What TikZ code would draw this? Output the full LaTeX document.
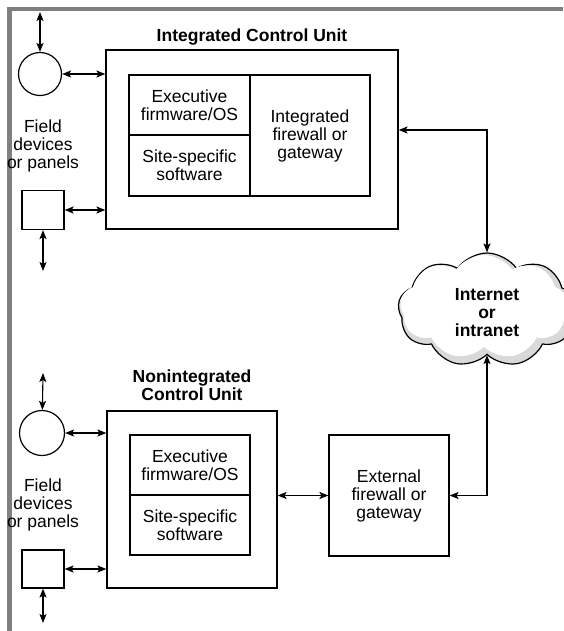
\documentclass[tikz,border=0pt]{standalone}
\usepackage{fontspec}
\setmainfont{Liberation Sans}
\usetikzlibrary{arrows.meta,shapes.symbols}
\begin{document}
\begin{tikzpicture}[x=1pt,y=-1pt,font=\fontsize{17.5}{18}\selectfont,
    part/.style={draw,line width=1.2pt,align=center,inner sep=0pt},
    ttl/.style={align=center,font=\fontsize{17.5}{18}\selectfont\bfseries},
    txt/.style={align=center},
    arr/.style={{Stealth[length=9pt,width=7pt,inset=2pt]}-{Stealth[length=9pt,width=7pt,inset=2pt]},line width=1.1pt}]
    \useasboundingbox (0,0) rectangle (563,631);
    \fill[black!50](7,7)rectangle(563,11);
    \fill[black!50](7,7)rectangle(12,631);

    % integrated unit
    \node[part,minimum width=292,minimum height=179](icu)at(252,139.5){};
    \node[ttl](icut)at(252,37){Integrated Control Unit};
    \node[part,minimum width=121,minimum height=60](exa)at(189.5,105){Executive\\firmware/OS};
    \node[part,minimum width=121,minimum height=61](sita)at(189.5,165.5){Site-specific\\software};
    \node[part,minimum width=120,minimum height=121](ifw)at(310,135.5){Integrated\\firewall or\\gateway};
    \node[circle,draw,line width=1.2pt,minimum size=43](c1)at(40,74){};
    \node[draw,line width=1.2pt,minimum width=42,minimum height=39](s1)at(43,210){};
    \node[txt](f1)at(43,146){Field\\devices\\or panels};
    \coordinate(t1)at(40,12);
    \coordinate(b1)at(43,271);
    \coordinate(j1)at(487,130);

    % nonintegrated unit
    \node[part,minimum width=170,minimum height=177](ncu)at(192,499.5){};
    \node[ttl](ncut)at(192,385){Nonintegrated\\Control Unit};
    \node[part,minimum width=120,minimum height=60](exb)at(190,465){Executive\\firmware/OS};
    \node[part,minimum width=120,minimum height=60](sitb)at(190,525){Site-specific\\software};
    \node[circle,draw,line width=1.2pt,minimum size=45](c2)at(42,433){};
    \node[draw,line width=1.2pt,minimum width=42,minimum height=38](s2)at(43,569){};
    \node[txt](f2)at(43,505){Field\\devices\\or panels};
    \coordinate(t2)at(43,373);
    \coordinate(b2)at(43,623);
    \node[part,minimum width=120,minimum height=121](xfw)at(389,495.5){External\\firewall or\\gateway};

    % cloud
    \node[cloud,draw,line width=1.2pt,fill=black!15,cloud puffs=9,cloud puff arc=110,aspect=1.6,minimum width=178,minimum height=114,inner sep=0pt](cloud)at(487,310){};
    \node[cloud,fill=white,cloud puffs=9,cloud puff arc=110,aspect=1.6,minimum width=168,minimum height=104,inner sep=0pt](cin)at(484,307){};
    \node[ttl](net)at(487,313){Internet\\or\\intranet};

    \draw[arr](t1)--(c1);
    \draw[arr](c1)--(c1-|icu.west);
    \draw[arr](s1)--(s1-|icu.west);
    \draw[arr](s1)--(b1);
    \draw[arr](icu.east|-j1)--(j1)--(cloud.north);
    \draw[arr](t2)--(c2);
    \draw[arr](c2)--(c2-|ncu.west);
    \draw[arr](s2)--(s2-|ncu.west);
    \draw[arr](s2)--(b2);
    \draw[arr](ncu.east|-xfw)--(xfw);
    \draw[arr](cloud.south)--(cloud.south|-xfw)--(xfw);
\end{tikzpicture}
\end{document}
